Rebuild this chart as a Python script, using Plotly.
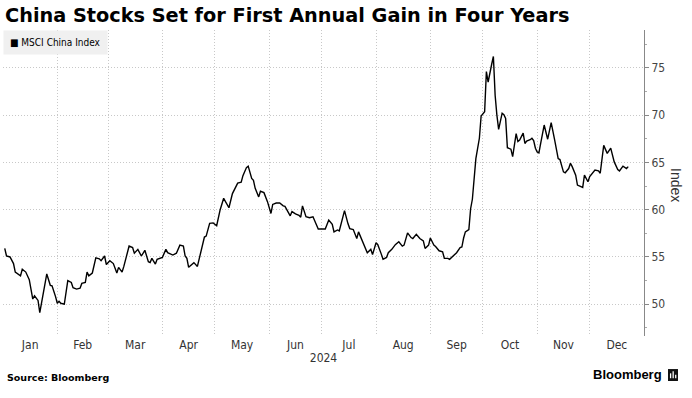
import plotly.graph_objects as go

title_text = "China Stocks Set for First Annual Gain in Four Years"
series_name = "MSCI China Index"
y_title = "Index"
year_label = "2024"
source_text = "Source: Bloomberg"
brand_text = "Bloomberg"
y_ticks = [50, 55, 60, 65, 70, 75]

dates = [
    "2024-01-02", "2024-01-03", "2024-01-05", "2024-01-07", "2024-01-08", "2024-01-11", "2024-01-12",
    "2024-01-14", "2024-01-16", "2024-01-18", "2024-01-19", "2024-01-21", "2024-01-22", "2024-01-24",
    "2024-01-26", "2024-01-28", "2024-01-29", "2024-01-31",
    "2024-02-01", "2024-02-02", "2024-02-03", "2024-02-05", "2024-02-07", "2024-02-09", "2024-02-10",
    "2024-02-12", "2024-02-14", "2024-02-15", "2024-02-17", "2024-02-18", "2024-02-19", "2024-02-21",
    "2024-02-23", "2024-02-25", "2024-02-26", "2024-02-28", "2024-02-29",
    "2024-03-02", "2024-03-04", "2024-03-06", "2024-03-07", "2024-03-09", "2024-03-10", "2024-03-13",
    "2024-03-15", "2024-03-16", "2024-03-18", "2024-03-20", "2024-03-22", "2024-03-24", "2024-03-25",
    "2024-03-26", "2024-03-28", "2024-03-29",
    "2024-04-01", "2024-04-03", "2024-04-04", "2024-04-07", "2024-04-09", "2024-04-11", "2024-04-13",
    "2024-04-14", "2024-04-15", "2024-04-16", "2024-04-18", "2024-04-19", "2024-04-21", "2024-04-23",
    "2024-04-25", "2024-04-26", "2024-04-28", "2024-04-30",
    "2024-05-02", "2024-05-04", "2024-05-06", "2024-05-09", "2024-05-11", "2024-05-14", "2024-05-16",
    "2024-05-17", "2024-05-19", "2024-05-20", "2024-05-22", "2024-05-23", "2024-05-24", "2024-05-26",
    "2024-05-27", "2024-05-29", "2024-05-31",
    "2024-06-02", "2024-06-03", "2024-06-05", "2024-06-07", "2024-06-09", "2024-06-10", "2024-06-13",
    "2024-06-14", "2024-06-16", "2024-06-18", "2024-06-19", "2024-06-20", "2024-06-22", "2024-06-24",
    "2024-06-26", "2024-06-29",
    "2024-07-01", "2024-07-03", "2024-07-05", "2024-07-07", "2024-07-08", "2024-07-10", "2024-07-11",
    "2024-07-12", "2024-07-14", "2024-07-16", "2024-07-17", "2024-07-19", "2024-07-21", "2024-07-22",
    "2024-07-24", "2024-07-25", "2024-07-27", "2024-07-29", "2024-07-30",
    "2024-08-01", "2024-08-02", "2024-08-04", "2024-08-05", "2024-08-07", "2024-08-08", "2024-08-10",
    "2024-08-12", "2024-08-14", "2024-08-16", "2024-08-17", "2024-08-19", "2024-08-21", "2024-08-22",
    "2024-08-24", "2024-08-26", "2024-08-28", "2024-08-29", "2024-08-31",
    "2024-09-01", "2024-09-03", "2024-09-04", "2024-09-06", "2024-09-08", "2024-09-09", "2024-09-11",
    "2024-09-12", "2024-09-14", "2024-09-16", "2024-09-18", "2024-09-19", "2024-09-20", "2024-09-21",
    "2024-09-23", "2024-09-24", "2024-09-25", "2024-09-26", "2024-09-27", "2024-09-29", "2024-09-30",
    "2024-10-02", "2024-10-03", "2024-10-04", "2024-10-05", "2024-10-06", "2024-10-07", "2024-10-08",
    "2024-10-09", "2024-10-10", "2024-10-12", "2024-10-13", "2024-10-14", "2024-10-15", "2024-10-17",
    "2024-10-18", "2024-10-20", "2024-10-21", "2024-10-22", "2024-10-24", "2024-10-25", "2024-10-26",
    "2024-10-28", "2024-10-29", "2024-10-30", "2024-10-31",
    "2024-11-01", "2024-11-02", "2024-11-03", "2024-11-05", "2024-11-07", "2024-11-09", "2024-11-11",
    "2024-11-13", "2024-11-14", "2024-11-16", "2024-11-17", "2024-11-19", "2024-11-20", "2024-11-21",
    "2024-11-23", "2024-11-24", "2024-11-27", "2024-11-28", "2024-11-30",
    "2024-12-01", "2024-12-04", "2024-12-06", "2024-12-07", "2024-12-09", "2024-12-11", "2024-12-13",
    "2024-12-15", "2024-12-17", "2024-12-18", "2024-12-20", "2024-12-22", "2024-12-23",
]

index_values = [
    55.9, 55.1, 55.0, 54.3, 53.4, 53.0, 53.7,
    53.4, 52.6, 50.55, 50.9, 50.4, 49.1, 51.0,
    53.2, 52.0, 51.95, 50.8,
    50.1, 50.3, 50.1, 50.0, 52.5, 52.3, 51.75,
    51.6, 51.7, 52.2, 52.3, 53.4, 53.0, 53.3,
    54.9, 54.8, 54.6, 55.1, 54.2,
    54.6, 54.3, 53.3, 53.9, 53.4, 54.0, 56.15,
    56.0, 55.4, 55.8, 55.1, 55.7, 54.5, 54.4,
    54.85, 54.25, 54.75,
    54.95, 55.8, 55.45, 55.2, 55.4, 56.25, 56.15,
    55.1, 54.85, 53.9, 54.25, 54.4, 54.0, 55.55,
    57.1, 57.2, 58.55, 58.6,
    58.3, 60.0, 61.2, 60.2, 61.7, 62.8, 62.9,
    63.6, 64.45, 64.6, 63.3, 63.1, 62.25, 61.35,
    61.95, 61.8, 60.85,
    59.6, 60.55, 60.7, 60.7, 60.4, 60.35, 59.35,
    59.8, 59.55, 59.4, 59.2, 60.4, 59.25, 59.15,
    59.25, 57.95,
    57.95, 57.95, 58.9, 58.45, 57.65, 57.85, 57.75,
    58.4, 59.9, 58.5, 58.0, 57.9, 56.95, 57.65,
    56.8, 56.35, 55.45, 55.8, 55.25,
    56.5, 56.3, 55.3, 54.75, 54.95, 55.45, 55.8,
    56.3, 56.6, 56.15, 56.25, 57.55, 57.05, 56.95,
    57.4, 56.95, 56.7, 55.9, 56.25,
    57.0, 56.25, 56.1, 55.65, 55.55, 54.85, 54.85,
    54.75, 55.1, 55.45, 56.0, 56.05, 57.0, 57.65,
    57.9, 60.1, 61.1, 62.95, 65.4, 67.55, 69.9,
    70.35, 74.6, 73.5, 74.6, 75.35, 76.2, 72.1,
    70.0, 68.5, 70.2, 70.05, 69.65, 66.55, 66.4,
    65.6, 68.05, 67.2, 67.35, 68.1, 67.0, 67.25,
    67.4, 67.55, 67.3, 66.5,
    66.1, 66.0, 67.0, 68.95, 67.45, 69.2, 67.35,
    65.4, 65.3, 64.0, 63.9, 64.35, 64.9, 64.55,
    63.65, 62.6, 62.35, 63.65, 62.95,
    63.5, 64.2, 64.1, 63.85, 66.8, 65.95, 66.5,
    65.05, 64.25, 64.1, 64.6, 64.35, 64.55,
]

NARROW = "DejaVu Sans Condensed, Liberation Sans Narrow, Arial Narrow, Liberation Sans, sans-serif"
GRID = "#c8c8c8"

fig = go.Figure()
fig.add_trace(go.Scatter(
    x=dates, y=index_values, mode="lines", name=series_name,
    line=dict(color="#000000", width=1.4), showlegend=False,
))

fig.update_layout(
    width=692, height=398,
    margin=dict(l=3, r=48, t=30, b=62),
    paper_bgcolor="white", plot_bgcolor="white",
    title=dict(
        text=f"<b>{title_text}</b>",
        font=dict(family="DejaVu Sans", size=19.3, color="#000000"),
        x=5 / 692, xref="container", xanchor="left",
        y=1 - 15 / 398, yref="container", yanchor="middle",
    ),
    xaxis=dict(
        type="date",
        range=["2024-01-01", "2025-01-01"],
        dtick="M1", tick0="2024-01-01",
        tickformat="%b", ticklabelmode="period",
        showgrid=True, gridcolor=GRID, griddash="1px,2px", gridwidth=1,
        ticks="", showline=False, zeroline=False,
        tickfont=dict(family=NARROW, size=12, color="#333333"),
        title=dict(text=year_label, standoff=2,
                   font=dict(family=NARROW, size=12, color="#333333")),
    ),
    yaxis=dict(
        side="right",
        range=[46.64, 79.0],
        tickvals=y_ticks,
        showgrid=True, gridcolor=GRID, griddash="1px,2px", gridwidth=1,
        showline=True, linecolor="#888888", linewidth=1,
        ticks="outside", ticklen=4, tickcolor="#888888",
        minor=dict(dtick=2.5, ticks="outside", ticklen=2, tickcolor="#aaaaaa", showgrid=False),
        zeroline=False,
        tickfont=dict(family=NARROW, size=12, color="#444444"),
    ),
)

fig.add_annotation(
    xref="paper", yref="paper", x=0, y=1, xanchor="left", yanchor="top",
    text=f"■ {series_name}", showarrow=False,
    font=dict(family=NARROW, size=10, color="#000000"),
    bgcolor="#f0f0f0", borderpad=6,
)

fig.add_annotation(
    xref="paper", yref="paper", x=1.05, y=0.493, xanchor="center", yanchor="middle",
    text=y_title, textangle=90, showarrow=False,
    font=dict(family="Liberation Sans, Arial, sans-serif", size=14, color="#333333"),
)

fig.add_annotation(
    xref="paper", yref="paper", x=0.003, y=-0.134, xanchor="left", yanchor="middle",
    text=f"<b>{source_text}</b>", showarrow=False,
    font=dict(family="DejaVu Sans", size=9.5, color="#000000"),
)

fig.add_annotation(
    xref="paper", yref="paper", x=1.031, y=-0.127, xanchor="right", yanchor="middle",
    text=f"<b>{brand_text}</b>", showarrow=False,
    font=dict(family="Liberation Sans, Arial, sans-serif", size=13, color="#000000"),
)

# small logo mark next to the brand name
fig.add_shape(type="rect", xref="paper", yref="paper",
              x0=1.0374, x1=1.053, y0=-0.147, y1=-0.108,
              fillcolor="#111111", line=dict(width=0))
for bx0, bx1, by1 in [(1.0405, 1.0425, -0.122), (1.0445, 1.0465, -0.115), (1.0485, 1.0505, -0.127)]:
    fig.add_shape(type="rect", xref="paper", yref="paper",
                  x0=bx0, x1=bx1, y0=-0.138, y1=by1,
                  fillcolor="#ffffff", line=dict(width=0))

fig.write_html(
    "out.html",
    config={"displayModeBar": False},
    post_script="document.body.style.margin='0';document.body.style.overflow='hidden';",
)
